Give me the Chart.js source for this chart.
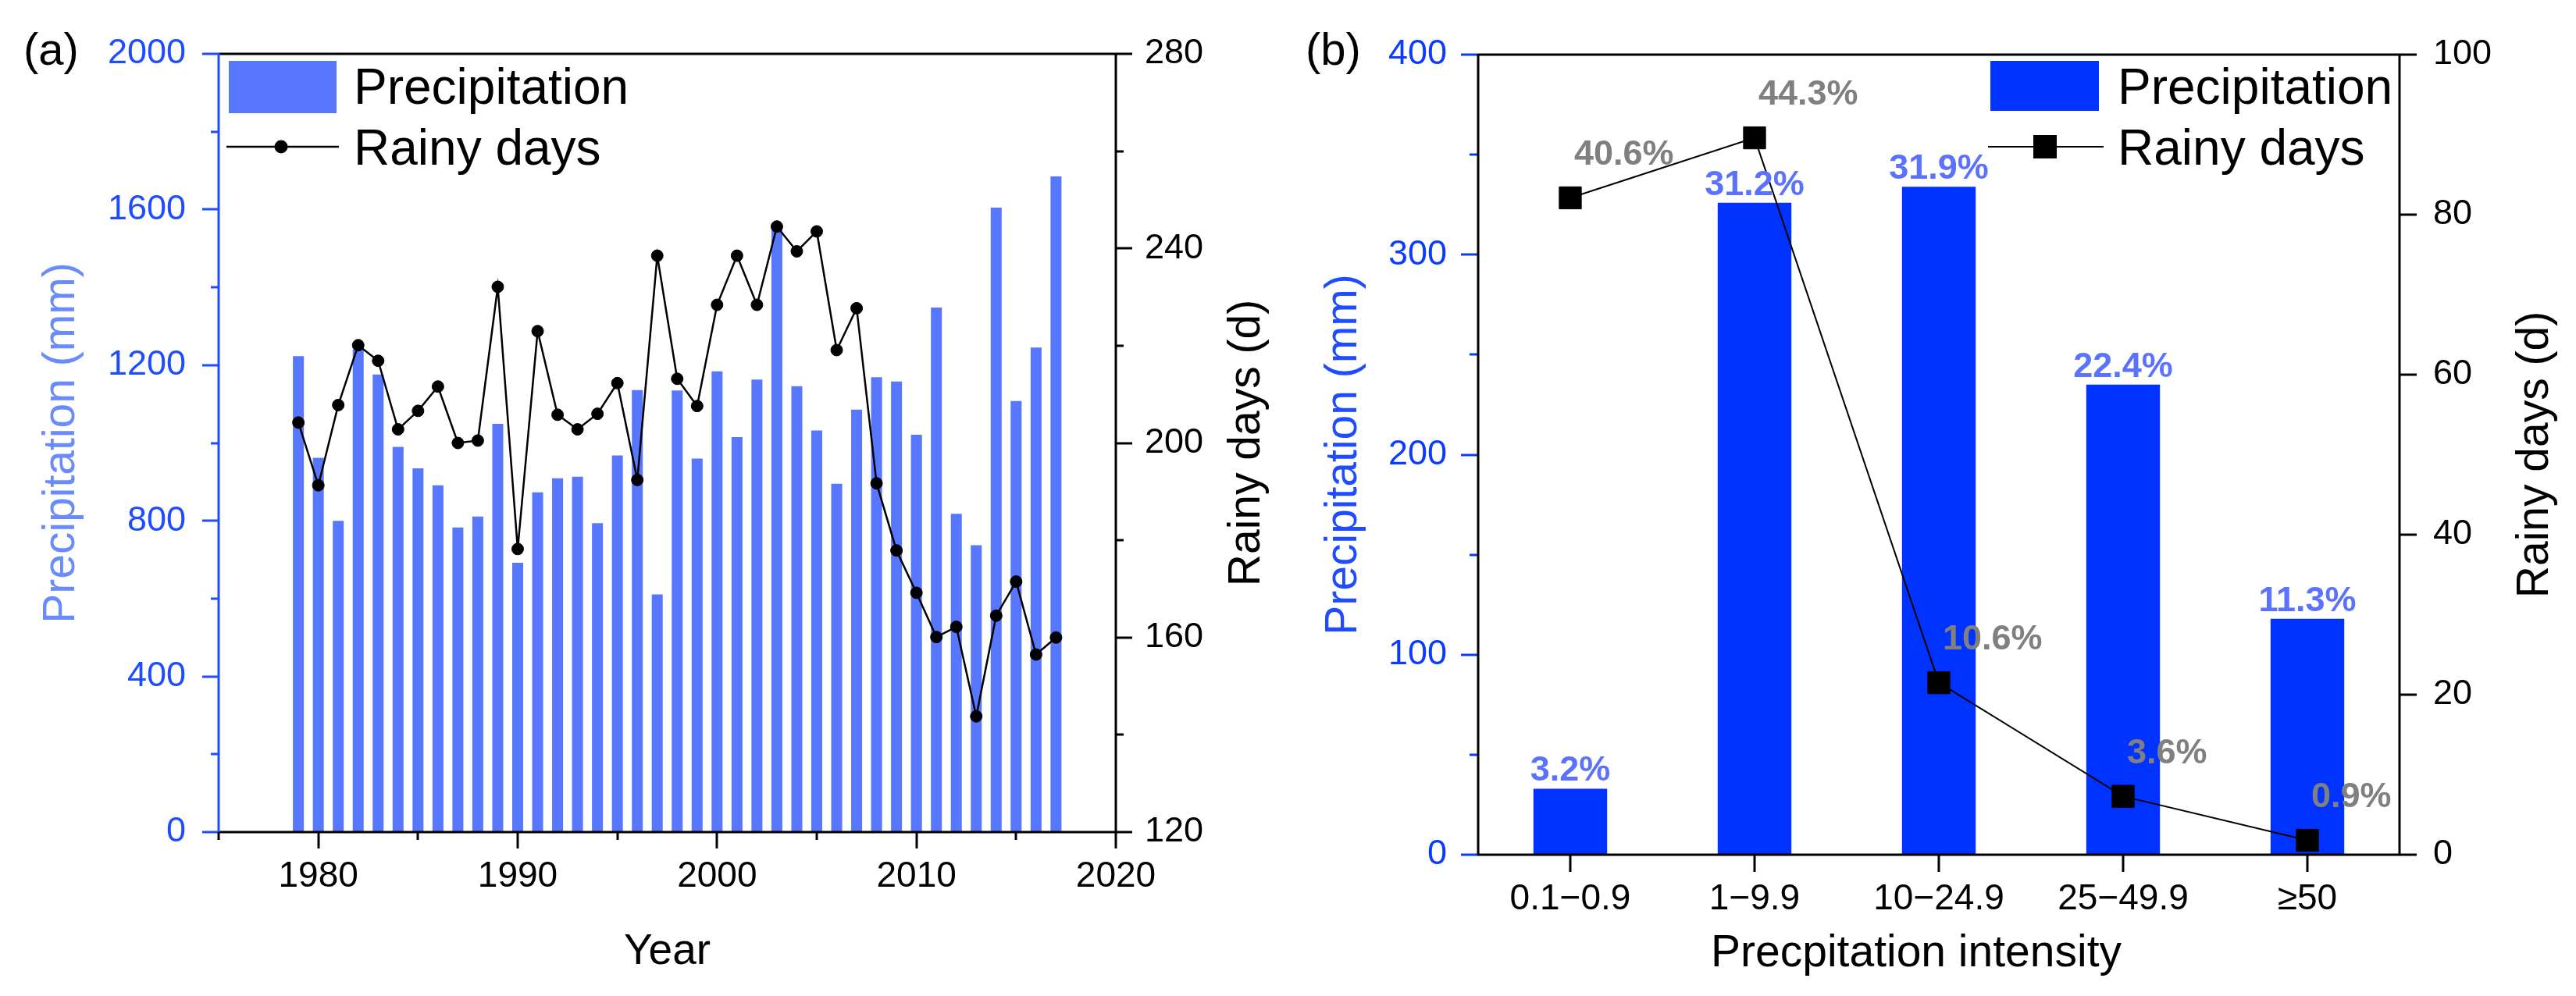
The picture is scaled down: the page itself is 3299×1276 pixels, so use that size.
<!DOCTYPE html>
<html>
<head>
<meta charset="utf-8">
<script src="https://cdn.jsdelivr.net/npm/chart.js@4.4.0/dist/chart.umd.min.js"></script>
<style>
  html, body { margin: 0; padding: 0; background: #fff; }
  #wrap { position: relative; width: 3299px; height: 1276px; }
  .panel { position: absolute; top: 0; height: 1276px; }
  #pa { left: 0; width: 1650px; }
  #pb { left: 1650px; width: 1649px; }
</style>
</head>
<body>
<div id="wrap">
  <div class="panel" id="pa"><canvas id="chartA"></canvas></div>
  <div class="panel" id="pb"><canvas id="chartB"></canvas></div>
</div>
<script>
// (a) yearly series
const years = [1979, 1980, 1981, 1982, 1983, 1984, 1985, 1986, 1987, 1988,
  1989, 1990, 1991, 1992, 1993, 1994, 1995, 1996, 1997, 1998,
  1999, 2000, 2001, 2002, 2003, 2004, 2005, 2006, 2007, 2008,
  2009, 2010, 2011, 2012, 2013, 2014, 2015, 2016, 2017];
const precipitation = [1223, 962, 800, 1240, 1176, 990, 935, 891, 783, 811,
  1049, 692, 873, 909, 913, 794, 968, 1136, 611, 1135,
  960, 1184, 1015, 1163, 1555, 1146, 1032, 895, 1086, 1169,
  1158, 1021, 1348, 818, 737, 1605, 1108, 1245, 1685];
const rainyDays = [204.2, 191.3, 207.8, 220.1, 216.9, 202.8, 206.6, 211.6, 200.0, 200.5,
  232.1, 178.2, 223.0, 205.8, 202.8, 206.0, 212.3, 192.4, 238.5, 213.2,
  207.6, 228.4, 238.5, 228.4, 244.5, 239.4, 243.5, 219.1, 227.7, 191.7,
  177.9, 169.2, 160.1, 162.2, 143.8, 164.5, 171.5, 156.5, 160.0];

// (b) by precipitation intensity class
const intensityClasses = ['0.1\u22120.9', '1\u22129.9', '10\u221224.9', '25\u221249.9', '\u226550'];
const classPrecipitation = [33, 326, 334, 235, 118];
const classRainyDays = [82.1, 89.6, 21.5, 7.3, 1.8];
const classPrecipShare = ['3.2%', '31.2%', '31.9%', '22.4%', '11.3%'];
const classRainyShare = ['40.6%', '44.3%', '10.6%', '3.6%', '0.9%'];

const FONT = '"Liberation Sans", Arial, sans-serif';
Chart.defaults.font.family = FONT;
Chart.defaults.color = '#000';

function drawTicks(ctx, scale, color, major, minor) {
  ctx.save();
  ctx.strokeStyle = color;
  ctx.lineWidth = 3;
  scale.ticks.forEach((t, i) => {
    const p = Math.round(scale.getPixelForTick(i));
    const len = t.label === '' ? minor : major;
    ctx.beginPath();
    if (scale.position === 'left') {
      ctx.moveTo(scale.right, p); ctx.lineTo(scale.right - len, p);
    } else if (scale.position === 'right') {
      ctx.moveTo(scale.left, p); ctx.lineTo(scale.left + len, p);
    } else {
      ctx.moveTo(p, scale.top); ctx.lineTo(p, scale.top + len);
    }
    ctx.stroke();
  });
  ctx.restore();
}

function line(ctx, x1, y1, x2, y2, color, w) {
  ctx.save();
  ctx.strokeStyle = color;
  ctx.lineWidth = w;
  ctx.beginPath();
  ctx.moveTo(x1, y1);
  ctx.lineTo(x2, y2);
  ctx.stroke();
  ctx.restore();
}

function text(ctx, str, x, y, font, color, align, baseline) {
  ctx.save();
  ctx.font = font;
  ctx.fillStyle = color;
  ctx.textAlign = align || 'left';
  ctx.textBaseline = baseline || 'alphabetic';
  ctx.fillText(str, x, y);
  ctx.restore();
}

function vText(ctx, str, x, y, font, color) {
  ctx.save();
  ctx.translate(x, y);
  ctx.rotate(-Math.PI / 2);
  ctx.font = font;
  ctx.fillStyle = color;
  ctx.textAlign = 'center';
  ctx.textBaseline = 'alphabetic';
  ctx.fillText(str, 0, 0);
  ctx.restore();
}

// ---------- panel (a) ----------
const blueA = '#1f4cff';
const barA = '#5877ff';

const decorA = {
  id: 'decorA',
  afterDraw(chart) {
    const ctx = chart.ctx;
    const a = chart.chartArea;
    const s = chart.scales;
    drawTicks(ctx, s.y, blueA, 21, 10);
    drawTicks(ctx, s.y1, '#000', 21, 10);
    drawTicks(ctx, s.x, '#000', 21, 10);
    line(ctx, a.left, a.top, a.right, a.top, '#000', 3);
    line(ctx, a.left - 1, a.bottom, a.right + 1, a.bottom, '#000', 3);
    line(ctx, a.right, a.top - 1, a.right, a.bottom + 1, '#000', 3);
    line(ctx, a.left, a.top - 1, a.left, a.bottom, blueA, 3);

    text(ctx, '(a)', 30, 83, '58px ' + FONT, '#000');
    vText(ctx, 'Precipitation (mm)', 95, (a.top + a.bottom) / 2, '57px ' + FONT, '#6a8bff');
    vText(ctx, 'Rainy days (d)', 1613, (a.top + a.bottom) / 2, '57px ' + FONT, '#000');
    text(ctx, 'Year', (a.left + a.right) / 2, 1235, '55px ' + FONT, '#000', 'center');

    // legend
    ctx.fillStyle = barA;
    ctx.fillRect(293, 78, 138, 67);
    text(ctx, 'Precipitation', 453, 133, '64px ' + FONT, '#000');
    line(ctx, 290, 188, 434, 188, '#000', 2.5);
    ctx.beginPath();
    ctx.arc(360, 188, 8.5, 0, Math.PI * 2);
    ctx.fillStyle = '#000';
    ctx.fill();
    text(ctx, 'Rainy days', 453, 211, '64px ' + FONT, '#000');
  }
};

new Chart(document.getElementById('chartA'), {
  data: {
    datasets: [
      {
        type: 'line',
        label: 'Rainy days',
        data: years.map((yr, i) => ({ x: yr, y: rainyDays[i] })),
        yAxisID: 'y1',
        borderColor: '#000',
        borderWidth: 2.5,
        pointRadius: 7.5,
        pointBackgroundColor: '#000',
        pointBorderColor: '#000',
        pointBorderWidth: 1,
        tension: 0,
        order: 0
      },
      {
        type: 'bar',
        label: 'Precipitation',
        data: years.map((yr, i) => ({ x: yr, y: precipitation[i] })),
        yAxisID: 'y',
        backgroundColor: barA,
        barPercentage: 0.55,
        categoryPercentage: 1,
        order: 1
      }
    ]
  },
  options: {
    responsive: true,
    maintainAspectRatio: false,
    animation: false,
    devicePixelRatio: 1,
    layout: { padding: { top: 65 } },
    plugins: { legend: { display: false }, tooltip: { enabled: false } },
    scales: {
      x: {
        type: 'linear',
        offset: false,
        min: 1975,
        max: 2020,
        grid: { display: false, drawTicks: false },
        border: { display: false },
        ticks: {
          stepSize: 5,
          autoSkip: false,
          maxRotation: 0,
          padding: 30,
          font: { size: 46 },
          color: '#000',
          callback: v => (v % 10 === 0 ? String(v) : '')
        },
        afterFit: sc => { sc.height = 210; }
      },
      y: {
        position: 'left',
        min: 0,
        max: 2000,
        grid: { display: false, drawTicks: false },
        border: { display: false },
        ticks: {
          stepSize: 200,
          padding: 42,
          font: { size: 45 },
          color: blueA,
          callback: v => (v % 400 === 0 ? String(v) : '')
        },
        afterFit: sc => { sc.width = 280; }
      },
      y1: {
        position: 'right',
        min: 120,
        max: 280,
        grid: { display: false, drawTicks: false },
        border: { display: false },
        ticks: {
          stepSize: 20,
          padding: 37,
          font: { size: 45 },
          color: '#000',
          callback: v => (v % 40 === 0 ? String(v) : '')
        },
        afterFit: sc => { sc.width = 221; }
      }
    }
  },
  plugins: [decorA]
});

// ---------- panel (b) ----------
const blueB = '#0a3cff';
const barB = '#0033ff';

const decorB = {
  id: 'decorB',
  afterDraw(chart) {
    const ctx = chart.ctx;
    const a = chart.chartArea;
    const s = chart.scales;
    drawTicks(ctx, s.y, blueB, 22, 11);
    drawTicks(ctx, s.y1, '#000', 22, 11);
    drawTicks(ctx, s.x, '#000', 22, 11);
    line(ctx, a.left, a.top, a.right, a.top, '#000', 3);
    line(ctx, a.left - 1, a.bottom, a.right + 1, a.bottom, '#000', 3);
    line(ctx, a.right, a.top - 1, a.right, a.bottom + 1, '#000', 3);
    line(ctx, a.left, a.top - 1, a.left, a.bottom, '#000', 3);

    // percentage labels
    const bars = chart.getDatasetMeta(1).data;
    bars.forEach((b, i) => {
      text(ctx, classPrecipShare[i], b.x, b.y - 10, 'bold 45px ' + FONT, '#5b72ff', 'center');
    });
    const pts = chart.getDatasetMeta(0).data;
    pts.forEach((p, i) => {
      text(ctx, classRainyShare[i], p.x + 5, p.y - 55, 'bold 45px ' + FONT, '#808080', 'left', 'middle');
    });

    const ox = -1650;
    text(ctx, '(b)', 1672 + ox, 83, '58px ' + FONT, '#000');
    vText(ctx, 'Precipitation (mm)', 1737 + ox, (a.top + a.bottom) / 2, '57px ' + FONT, '#1f4cff');
    vText(ctx, 'Rainy days (d)', 3263 + ox, (a.top + a.bottom) / 2, '57px ' + FONT, '#000');
    text(ctx, 'Precpitation intensity', 2454 + ox, 1238, '57px ' + FONT, '#000', 'center');

    // legend
    ctx.fillStyle = barB;
    ctx.fillRect(2549 + ox, 78, 139, 64);
    text(ctx, 'Precipitation', 2712 + ox, 133, '64px ' + FONT, '#000');
    line(ctx, 2546 + ox, 188, 2694 + ox, 188, '#000', 2);
    ctx.fillStyle = '#000';
    ctx.fillRect(2604 + ox, 173, 30, 30);
    text(ctx, 'Rainy days', 2712 + ox, 211, '64px ' + FONT, '#000');
  }
};

new Chart(document.getElementById('chartB'), {
  data: {
    labels: intensityClasses,
    datasets: [
      {
        type: 'line',
        label: 'Rainy days',
        data: classRainyDays,
        yAxisID: 'y1',
        borderColor: '#000',
        borderWidth: 2,
        pointStyle: 'rect',
        pointRadius: 20,
        pointBackgroundColor: '#000',
        pointBorderColor: '#000',
        pointBorderWidth: 1,
        tension: 0,
        order: 0
      },
      {
        type: 'bar',
        label: 'Precipitation',
        data: classPrecipitation,
        yAxisID: 'y',
        backgroundColor: barB,
        barPercentage: 0.4,
        categoryPercentage: 1,
        order: 1
      }
    ]
  },
  options: {
    responsive: true,
    maintainAspectRatio: false,
    animation: false,
    devicePixelRatio: 1,
    layout: { padding: { top: 65 } },
    plugins: { legend: { display: false }, tooltip: { enabled: false } },
    scales: {
      x: {
        type: 'category',
        offset: true,
        grid: { display: false, drawTicks: false },
        border: { display: false },
        ticks: {
          autoSkip: false,
          maxRotation: 0,
          padding: 30,
          font: { size: 46 },
          color: '#000'
        },
        afterFit: sc => { sc.height = 181; }
      },
      y: {
        position: 'left',
        min: 0,
        max: 400,
        grid: { display: false, drawTicks: false },
        border: { display: false },
        ticks: {
          stepSize: 50,
          padding: 40,
          font: { size: 45 },
          color: blueB,
          callback: v => (v % 100 === 0 ? String(v) : '')
        },
        afterFit: sc => { sc.width = 243; }
      },
      y1: {
        position: 'right',
        min: 0,
        max: 100,
        grid: { display: false, drawTicks: false },
        border: { display: false },
        ticks: {
          stepSize: 20,
          padding: 43,
          font: { size: 45 },
          color: '#000'
        },
        afterFit: sc => { sc.width = 226; }
      }
    }
  },
  plugins: [decorB]
});
</script>
</body>
</html>
